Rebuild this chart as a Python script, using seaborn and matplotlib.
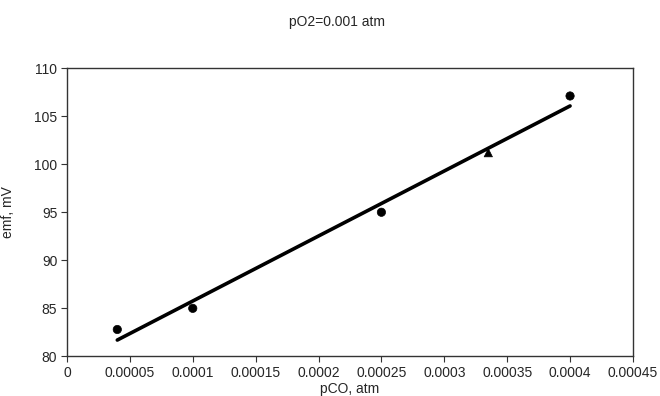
import numpy as np
import matplotlib
matplotlib.use("Agg")
import matplotlib.pyplot as plt
import pandas as pd
import seaborn as sns

# data
pco = [0.00004, 0.0001, 0.00025, 0.000335, 0.0004]
emf = [82.8, 85.0, 95.0, 101.2, 107.1]
marker_kind = ["circle", "circle", "circle", "triangle", "circle"]

x_ticks = [0, 0.00005, 0.0001, 0.00015, 0.0002, 0.00025, 0.0003, 0.00035, 0.0004, 0.00045]
x_tick_labels = ["0", "0.00005", "0.0001", "0.00015", "0.0002", "0.00025",
                 "0.0003", "0.00035", "0.0004", "0.00045"]
y_ticks = [80, 85, 90, 95, 100, 105, 110]

df = pd.DataFrame({"pCO": pco, "emf": emf, "kind": marker_kind})

sns.set_style("ticks")
plt.rcParams['font.family'] = ['Liberation Sans', 'DejaVu Sans']

fig = plt.figure(figsize=(6.6, 3.96), dpi=100)
ax = fig.add_axes([0.1015, 0.10, 0.8575, 0.728])

sns.scatterplot(data=df, x="pCO", y="emf", style="kind",
                markers={"circle": "o", "triangle": "^"},
                color="black", s=36, edgecolor="black", legend=False, ax=ax, zorder=2)
# fitted line over the data range, drawn on top of the markers
sns.regplot(data=df, x="pCO", y="emf", scatter=False, ci=None, truncate=True,
            color="black", line_kws={"linewidth": 2.6, "zorder": 4}, ax=ax)

ax.set_xlim(0, 0.00045)
ax.set_ylim(80, 110)
ax.set_xticks(x_ticks)
ax.set_xticklabels(x_tick_labels)
ax.set_yticks(y_ticks)
ax.tick_params(axis="both", labelsize=10, length=4, width=0.8, color="#333333", pad=3)

for side in ["top", "right", "left", "bottom"]:
    ax.spines[side].set_visible(True)
    ax.spines[side].set_color("#333333")
    ax.spines[side].set_linewidth(1.0)

ax.set_xlabel("pCO, atm", fontsize=10, labelpad=1)
ax.set_ylabel("emf, mV", fontsize=10, labelpad=14)
fig.text(0.51, 0.945, "pO2=0.001 atm", ha="center", va="center", fontsize=10)

fig.savefig("out.png", dpi=100)
